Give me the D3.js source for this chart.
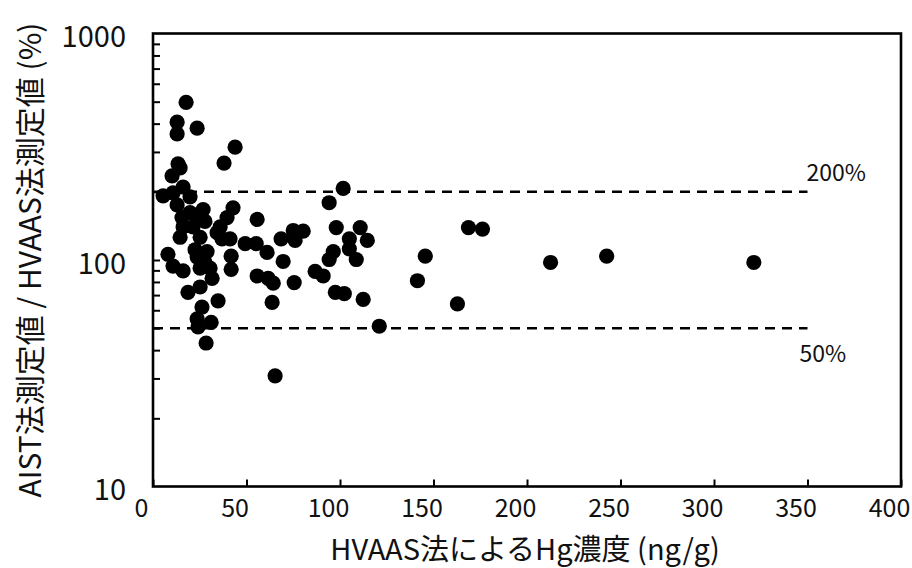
<!DOCTYPE html>
<html><head><meta charset="utf-8">
<script src="https://cdn.jsdelivr.net/npm/d3@7"></script>
<style>body{margin:0;background:#fff}</style>
</head><body>
<svg id="c" width="912" height="568"></svg>
<script>
// HVAAS concentration (ng/g)
const hgConc = [17.7,12.9,12.9,23.6,43.9,38.0,13.4,14.5,10.2,16.1,5.4,10.7,19.8,12.9,42.8,26.8,39.6,55.7,15.5,19.8,
  23.6,16.1,21.4,27.8,35.9,14.5,25.2,34.3,36.9,41.2,49.3,55.2,68.5,61.0,22.5,28.9,8.0,41.8,23.6,27.8,
  10.7,16.1,25.2,30.5,31.6,41.8,55.7,61.6,64.3,18.7,25.2,34.8,63.7,26.2,23.6,31.1,24.1,28.4,65.3,69.6,
  75.5,75.5,75.0,80.3,76.0,86.7,91.0,98.0,110.8,105.0,114.6,96.4,94.2,105.0,108.7,97.5,102.3,112.4,121.0,101.7,
  94.2,145.6,141.4,162.8,168.7,176.2,212.6,242.6,321.3];
// AIST / HVAAS ratio (%)
const ratioPct = [497,406,360,382,315,268,266,255,235,210,192,198,190,175,170,167,154,151,154,162,
  155,140,140,148,140,126,126,132,124,124,118,118,124,108,111,109,106,104,103,97.5,
  94,89.5,92,92,83,91,85,83,79,72,76,66,65,62,55,53,50.7,43,30.8,98.5,
  132,79.5,135,134,122,89,85,139,139,124,122,109,100.5,112,100.5,72,71,67,51,207,
  179,104,81,64,139,137,97.5,104,97.5];
const xTicks = [0,50,100,150,200,250,300,350,400];
const yLabelTicks = [10,100,1000];
const refLines = [{v:200,label:"200%"},{v:50,label:"50%"}];
const refEnd = 350;
const xTitle = "HVAAS法によるHg濃度 (ng/g)";
const yTitle = "AIST法測定値 / HVAAS法測定値 (%)";

const svg = d3.select("#c");
const L=153,R=901,T=33.5,B=486.5;
const x = d3.scaleLinear().domain([0,400]).range([L,R]);
const y = d3.scaleLog().domain([10,1000]).range([B,T]);
const font = "'Noto Sans CJK JP','Noto Sans',sans-serif";

// reference dashed lines
svg.selectAll("line.ref").data(refLines).join("line")
  .attr("x1",x(0)).attr("x2",x(refEnd)).attr("y1",d=>y(d.v)).attr("y2",d=>y(d.v))
  .attr("stroke","#000").attr("stroke-width",2.6).attr("stroke-dasharray","10,7");
svg.selectAll("text.ref").data(refLines).join("text")
  .attr("x",(d,i)=> i===0 ? x(refEnd)-1 : x(refEnd)-8)
  .attr("y",(d,i)=> i===0 ? y(d.v)-11 : y(d.v)+34)
  .attr("font-family",font).attr("font-size",23).attr("fill","#111").text(d=>d.label);

// points
const pts = hgConc.map((v,i)=>({x:v,y:ratioPct[i]}));
svg.selectAll("circle").data(pts).join("circle")
  .attr("cx",d=>x(d.x)).attr("cy",d=>y(d.y)).attr("r",7.6).attr("fill","#000");

// axes
const xAxis = d3.axisBottom(x).tickValues(xTicks).tickSizeInner(-7).tickSizeOuter(0).tickPadding(13);
const gx = svg.append("g").attr("transform",`translate(0,${B})`).call(xAxis);
gx.select(".domain").remove();
gx.selectAll(".tick line").attr("stroke-width",2);
gx.selectAll(".tick text").attr("font-family",font).attr("font-size",25).attr("fill","#111").attr("dx",-12);

const minor = [];
for (let d=10; d<1000; d*=10) for (let k=1;k<10;k++) minor.push(d*k);
const yAxis = d3.axisLeft(y).tickValues(minor.filter(v=>v>10)).tickSizeInner(-7).tickSizeOuter(0)
  .tickFormat(d=> yLabelTicks.includes(d) ? d : "");
const gy = svg.append("g").attr("transform",`translate(${L},0)`).call(yAxis);
gy.select(".domain").remove();
gy.selectAll(".tick line").attr("stroke-width",2);
gy.selectAll(".tick text").remove();
svg.selectAll("text.ylab").data(yLabelTicks).join("text")
  .attr("x",126).attr("y",d=>y(d)+6).attr("text-anchor","end").attr("dominant-baseline","middle")
  .attr("font-family",font).attr("font-size",29).attr("fill","#111").text(d=>d);

// frame
svg.append("rect").attr("x",L).attr("y",T).attr("width",R-L).attr("height",B-T)
  .attr("fill","none").attr("stroke","#000").attr("stroke-width",2.6);

// titles
svg.append("text").attr("x",525).attr("y",560).attr("text-anchor","middle")
  .attr("font-family",font).attr("font-size",29).attr("fill","#111").text(xTitle);
svg.append("text").attr("transform","translate(41,260) rotate(-90)").attr("text-anchor","middle")
  .attr("font-family",font).attr("font-size",30).attr("fill","#111").text(yTitle);
</script>
</body></html>
